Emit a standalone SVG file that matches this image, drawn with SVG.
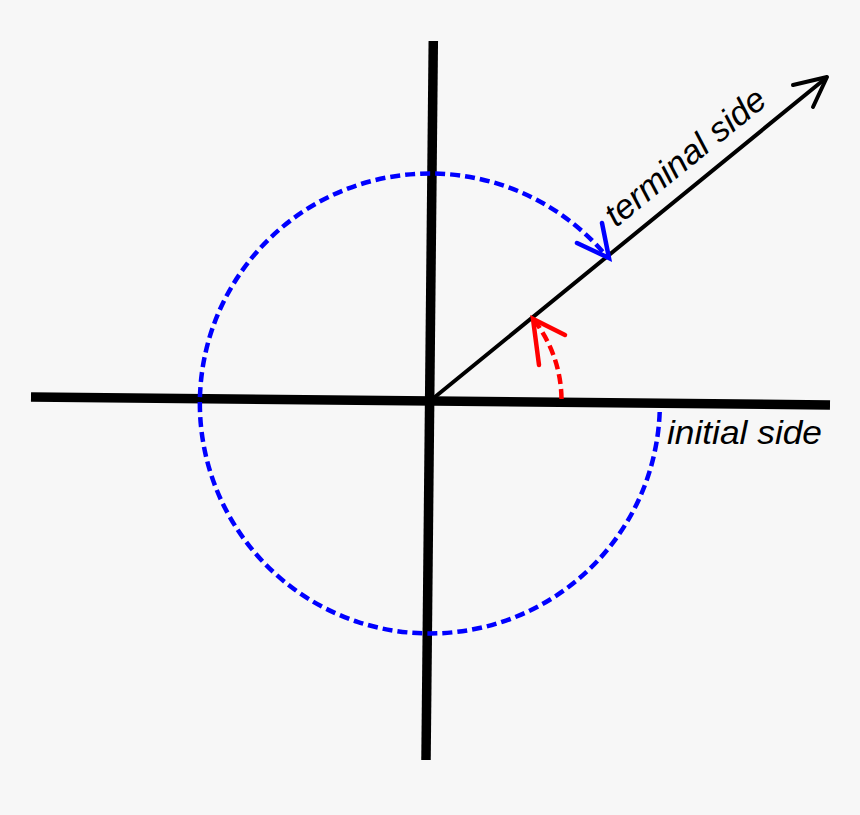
<svg xmlns="http://www.w3.org/2000/svg" width="860" height="815" viewBox="0 0 860 815">
<style>
.axis{stroke:#000;stroke-width:9.5;fill:none}
.ray{stroke:#000;stroke-width:4;fill:none;stroke-linecap:round;stroke-linejoin:round}
.blue{stroke:#0000ff;stroke-width:4.5;fill:none;stroke-dasharray:10 5}
.red{stroke:#ff0000;stroke-width:4.5;fill:none;stroke-dasharray:10 5}
.bhead{stroke:#0000ff;stroke-width:4.5;fill:none;stroke-linecap:round;stroke-linejoin:miter}
.rhead{stroke:#ff0000;stroke-width:4.5;fill:none;stroke-linecap:round;stroke-linejoin:miter}
.lbl{font-family:"Liberation Sans",Arial,sans-serif;font-style:italic;font-size:34px;fill:#000}
</style>
<rect width="860" height="815" fill="#f7f7f7"/>
<g id="axes">
<line class="axis" x1="31" y1="397" x2="830" y2="405"/>
<line class="axis" x1="433.3" y1="41" x2="426" y2="760"/>
</g>
<g id="connectors">
<line class="ray" x1="430" y1="401" x2="826" y2="78"/>
<polyline class="ray" points="793,85 827,77 813,107"/>
<path class="red" d="M 561.5 399 A 131.5 131.5 0 0 0 534 320"/>
<polyline class="rhead" points="539,365 533,319 565,335"/>
<path class="blue" d="M 659.7 412 A 230 230 0 1 1 608 258"/>
<polyline class="bhead" points="577,243 609,258 602,223"/>
</g>
<g id="labels">
<text class="lbl" x="667" y="443.5" textLength="155" lengthAdjust="spacingAndGlyphs">initial side</text>
<text class="lbl" transform="translate(616,228) rotate(-39.2)" x="0" y="0" textLength="197" lengthAdjust="spacingAndGlyphs">terminal side</text>
</g>
</svg>
